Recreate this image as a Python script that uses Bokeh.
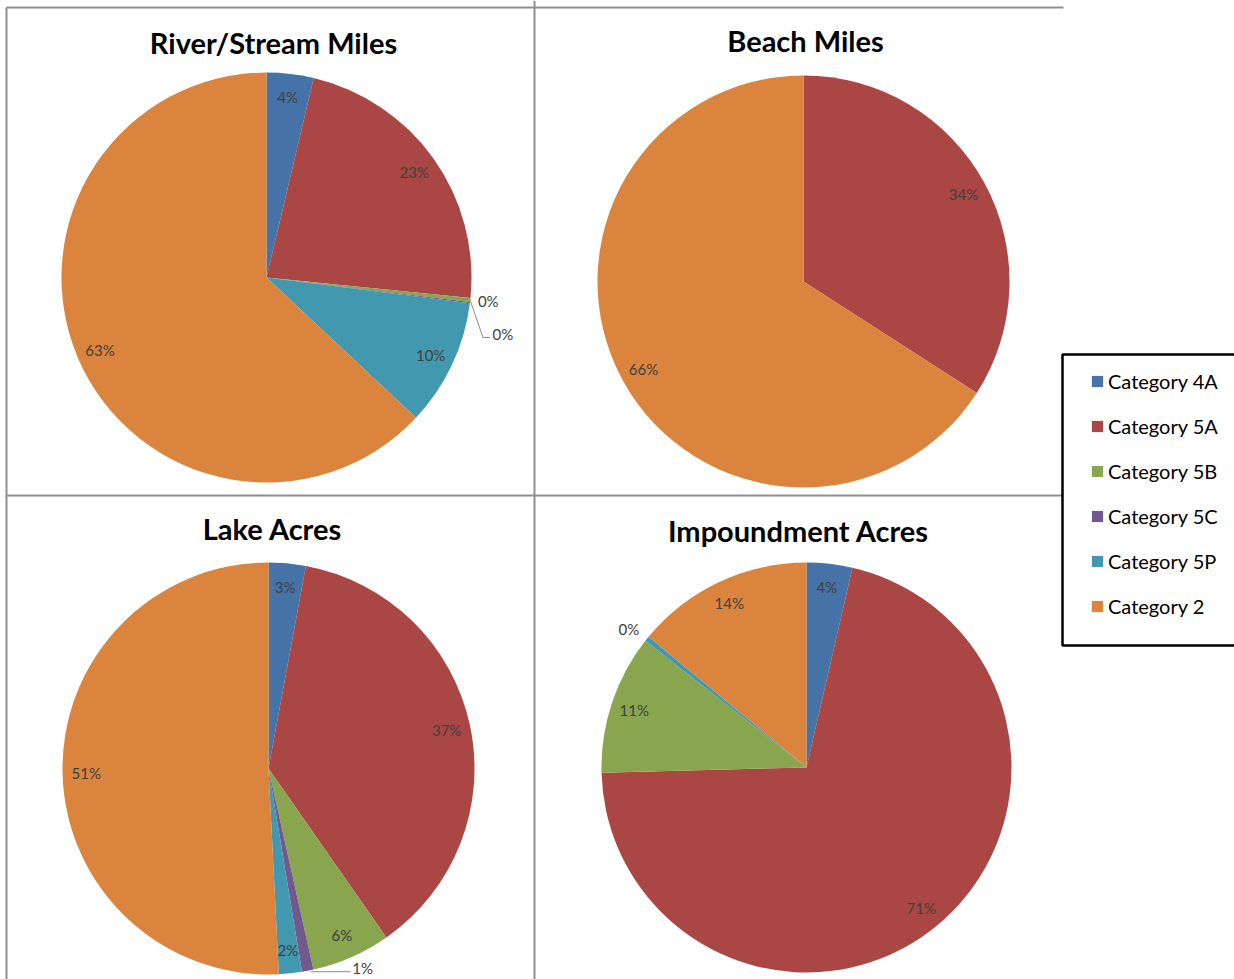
import math
from bokeh.plotting import figure
from bokeh.models import Range1d, Legend, LegendItem, ColumnDataSource
from bokeh.core.properties import value
from bokeh.embed import file_html
from bokeh.resources import INLINE

# ---------------- data ----------------
categories = ["Category 4A", "Category 5A", "Category 5B", "Category 5C", "Category 5P", "Category 2"]
titles = ["River/Stream Miles", "Beach Miles", "Lake Acres", "Impoundment Acres"]
river_stream_miles = [3.7, 22.9, 0.3, 0.1, 10.0, 63.0]
beach_miles = [0.0, 34.1, 0.0, 0.0, 0.0, 65.9]
lake_acres = [2.9, 37.4, 6.2, 0.9, 1.8, 50.8]
impoundment_acres = [3.6, 71.0, 11.0, 0.0, 0.4, 14.0]
series = [river_stream_miles, beach_miles, lake_acres, impoundment_acres]

# ---------------- style / layout ----------------
colors = ["#4572A7", "#AA4643", "#89A54E", "#71588F", "#4198AF", "#DB843D"]
W, H = 1234, 979
FONT = "Lato"
# pie centres (screen px, y down), radius, title centre
pies = [
    dict(cx=266, cy=277, r=205, tx=273, ty=42),
    dict(cx=803, cy=281, r=206, tx=805, ty=40),
    dict(cx=268, cy=768, r=206, tx=272, ty=528),
    dict(cx=806, cy=767, r=205, tx=798, ty=530),
]
LABEL_K = 0.885
# outside labels: offsets from rim point (screen px) and optional leader polyline
outside = {
    (0, 2): dict(dx=18, dy=1, leader=None),
    (0, 3): dict(dx=33, dy=31, leader=[(0, -3), (13, 35), (20, 35)]),
    (2, 3): dict(dx=55, dy=-3, leader=[(3, 1), (43, 1)]),
    (3, 4): dict(dx=-18, dy=-10, leader=None),
}

p = figure(width=W, height=H, x_range=Range1d(0, W), y_range=Range1d(0, H),
           x_axis_type=None, y_axis_type=None, toolbar_location=None,
           output_backend="svg", min_border=0, outline_line_color=None)
p.xgrid.visible = False
p.ygrid.visible = False

def Y(sy):
    return H - sy

# panel borders
border_col = "#909090"
p.segment(x0=[6, 6, 534, 6], y0=[Y(7), Y(7), Y(0), Y(495)],
          x1=[1063, 6, 534, 1062], y1=[Y(7), Y(979), Y(979), Y(495)],
          line_color=border_col, line_width=2)

for pi, (vals, lay, title) in enumerate(zip(series, pies, titles)):
    cx, cy, R = lay["cx"], Y(lay["cy"]), lay["r"]
    total = float(sum(vals))
    cum = 0.0
    starts, ends, cols = [], [], []
    lx, ly, ltxt = [], [], []
    lead_xs, lead_ys = [], []
    for ci, v in enumerate(vals):
        if v <= 0:
            continue
        f0 = cum / total
        cum += v
        f1 = cum / total
        starts.append(math.pi / 2 - 2 * math.pi * f1)
        ends.append(math.pi / 2 - 2 * math.pi * f0)
        cols.append(colors[ci])
        th = 2 * math.pi * (f0 + f1) / 2
        txt = "%d%%" % int(v + 0.5)
        if (pi, ci) in outside:
            o = outside[(pi, ci)]
            ex, ey = cx + R * math.sin(th), cy + R * math.cos(th)
            lx.append(ex + o["dx"])
            ly.append(ey - o["dy"])
            if o["leader"]:
                lead_xs.append([ex + a for a, b in o["leader"]])
                lead_ys.append([ey - b for a, b in o["leader"]])
        else:
            lx.append(cx + LABEL_K * R * math.sin(th))
            ly.append(cy + LABEL_K * R * math.cos(th))
        ltxt.append(txt)
    src = ColumnDataSource(dict(start=starts, end=ends, color=cols))
    p.wedge(x=cx, y=cy, radius=R, start_angle="start", end_angle="end",
            fill_color="color", line_color=None, source=src)
    if lead_xs:
        p.multi_line(xs=lead_xs, ys=lead_ys, line_color="#8a8a8a", line_width=1)
    p.text(x=lx, y=ly, text=ltxt, text_align="center", text_baseline="middle",
           text_font=value(FONT), text_font_size="15px", text_color="#404040")
    p.text(x=[lay["tx"]], y=[Y(lay["ty"])], text=[title], text_align="center",
           text_baseline="middle", text_font=value(FONT), text_font_size="29px",
           text_font_style="bold", text_color="#000000")

# legend frame (decoration)
p.quad(left=[1062], right=[1250], top=[Y(354)], bottom=[Y(645)],
       fill_color="white", line_color="#000000", line_width=2.5)

# legend swatches via an off-canvas source
leg_src = ColumnDataSource(dict(x=[-100] * len(categories), y=[-100] * len(categories),
                                color=colors, cat=categories))
leg_r = p.rect(x="x", y="y", width=1, height=1, fill_color="color", line_color=None,
               source=leg_src)
items = [LegendItem(label=c, renderers=[leg_r], index=i) for i, c in enumerate(categories)]
legend = Legend(items=items, location=(1090, Y(618)), orientation="vertical",
                border_line_color=None, background_fill_alpha=0.0,
                padding=10, spacing=21, label_height=22, glyph_height=14, glyph_width=14,
                label_standoff=4, margin=0,
                label_text_font=FONT, label_text_font_size="20px", label_text_color="#000000")
p.add_layout(legend)

open("out.html", "w").write(file_html(p, INLINE))
